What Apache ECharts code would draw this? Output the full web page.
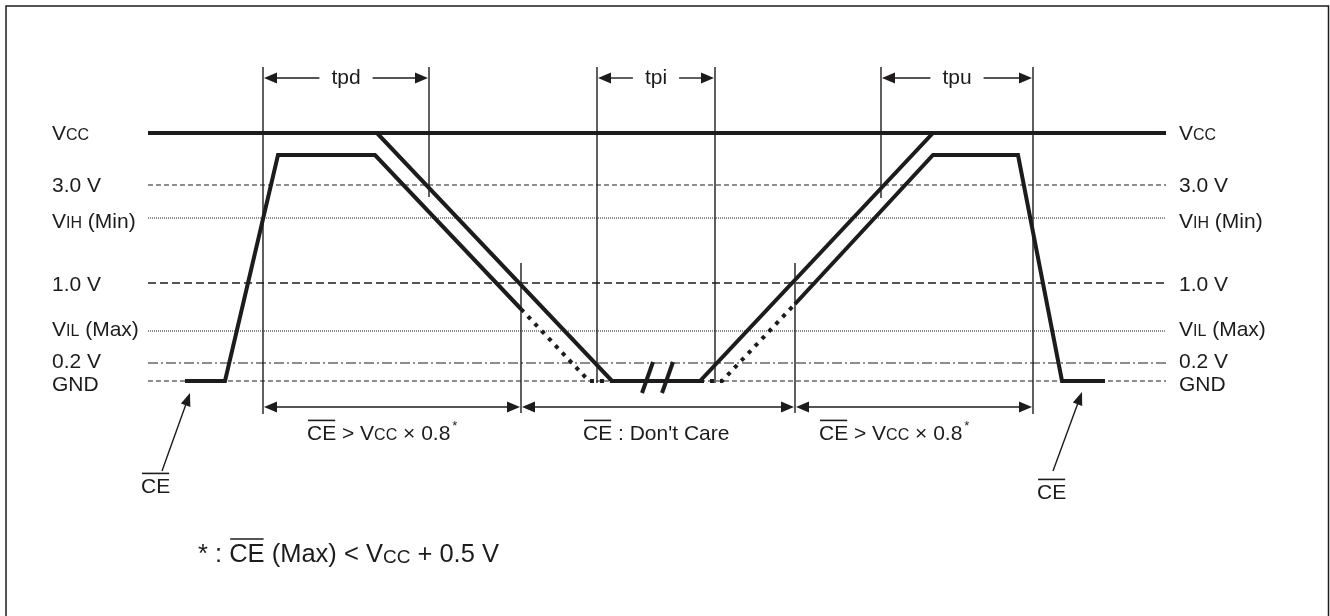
<!DOCTYPE html>
<html><head><meta charset="utf-8">
<script src="https://cdn.jsdelivr.net/npm/echarts@6/dist/echarts.min.js"></script>
<style>html,body{margin:0;padding:0;background:#fff}#c{width:1330px;height:616px}</style>
</head><body><div id="c"></div>
<script>
// ---------- DATA (diagram units: time on x, level on y; GND = 0) ----------
const levelNames  = ['V{CC}', '3.0 V', 'V{IH} (Min)', '1.0 V', 'V{IL} (Max)', '0.2 V', 'GND'];
const levelValues = [248, 196, 163, 98, 50, 18, 0];
const levelSpan   = [148, 1166];               // time span of the reference levels

const vccTime  = [148, 377, 612, 700, 933, 1166];
const vccLevel = [248, 248, 0, 0, 248, 248];

const ceFallTime  = [185, 225, 278, 375, 521];
const ceFallLevel = [0, 0, 226, 226, 72];
const ceFallDotTime  = [521, 589, 612];
const ceFallDotLevel = [72, 0, 0];
const ceRiseDotTime  = [700, 722, 795];
const ceRiseDotLevel = [0, 0, 77];
const ceRiseTime  = [795, 933, 1018, 1062, 1105];
const ceRiseLevel = [77, 226, 226, 0, 0];

const markerTime   = [263, 429, 597, 715, 881, 1033, 521, 795];
const markerTop    = [314, 314, 314, 314, 314, 314, 118, 118];
const markerBottom = [-33, 184, -2, -2, 183, -33, -32, -32];

const topDimNames = ['tpd', 'tpi', 'tpu'];
const topDimFrom  = [263, 597, 881];
const topDimTo    = [429, 715, 1033];
const topDimLevel = 303;

const botDimNames = ['[CE] > V{CC} × 0.8^*', '[CE] : Don\'t Care', '[CE] > V{CC} × 0.8^*'];
const botDimFrom  = [263, 521, 795];
const botDimTo    = [521, 795, 1033];
const botDimLevel = -26;

const breakFrom = [[642, -12], [662, -12]];
const breakTo   = [[653, 19], [673, 19]];

const ceNoteText = ['[CE]', '[CE]'];
const ceNoteTail = [[162, -90], [1053, -90]];
const ceNoteTip  = [[190, -12], [1082, -11]];

const footnote = '* : [CE] (Max) < V{CC} + 0.5 V';

// ---------- STYLE / LAYOUT ----------
const INK = '#1e1b1c';
const FONT = '"Liberation Sans", Arial, Helvetica, sans-serif';
const levelDash  = ['solid', [5, 3], [1, 1], [8, 4], [1, 1], [10, 3, 2, 3], [5, 3]];
const levelWidth = [4, 1.1, 1, 1.3, 1, 1.1, 1.1];
const levelNudge = [1, 1, 4, 2, -1.5, -1, 3.5];
const labelLeftX = 52, labelRightX = 1179;
const botLabelX = [307, 583, 819], botLabelBase = -60;
const ceNoteX = [141, 1037], ceNoteBase = [-113, -119];
const footX = 198, footBase = -183, footSize = 25.5;

const mctx = document.createElement('canvas').getContext('2d');
function tw(t, size) { mctx.font = size + 'px ' + FONT; return mctx.measureText(t).width; }
function parseSpec(spec) {
  const out = []; const re = /\[([^\]]+)\]|\{([^}]+)\}|\^(\S+)|([^\[\{\^]+)/g; let m;
  while ((m = re.exec(spec))) {
    if (m[1] != null) out.push({ t: m[1], k: 'over' });
    else if (m[2] != null) out.push({ t: m[2], k: 'small' });
    else if (m[3] != null) out.push({ t: m[3], k: 'sup' });
    else out.push({ t: m[4], k: 'n' });
  }
  return out;
}
function richText(spec, x, baseY, size, align) {
  const segs = parseSpec(spec);
  let W = 0;
  segs.forEach(s => {
    s.size = s.k === 'small' ? Math.round(size * 0.76) : s.k === 'sup' ? Math.round(size * 0.6) : size;
    s.w = tw(s.t, s.size); W += s.w + (s.k === 'sup' ? 2 : 0);
  });
  let cx = align === 'center' ? x - W / 2 : x;
  const els = [];
  segs.forEach(s => {
    if (s.k === 'sup') cx += 2;
    const base = s.k === 'sup' ? baseY - size * 0.5 : baseY;
    els.push({ type: 'text', x: cx, y: base - 0.3465 * s.size, z2: 10,
      style: { text: s.t, font: s.size + 'px ' + FONT, fill: INK, align: 'left', verticalAlign: 'middle', textAlign: 'left', textVerticalAlign: 'middle' } });
    if (s.k === 'over') {
      const oy = baseY - 0.98 * size;
      els.push({ type: 'line', shape: { x1: cx + 1, y1: oy, x2: cx + s.w - 1, y2: oy }, style: { stroke: INK, lineWidth: 1.6 } });
    }
    cx += s.w;
  });
  return { els, W };
}
function tri(tip, dx, dy, L, H) {
  const bx = tip[0] - dx * L, by = tip[1] - dy * L;
  return [[tip[0], tip[1]], [bx - dy * H, by + dx * H], [bx + dy * H, by - dx * H]];
}
const zip = (a, b) => a.map((v, i) => [v, b[i]]);

// ---------- SERIES ----------
const series = [];
levelValues.forEach((v, i) => {
  series.push({ type: 'line', silent: true, symbol: 'none', z: i === 0 ? 5 : 1,
    data: [[levelSpan[0], v], [levelSpan[1], v]],
    lineStyle: { color: INK, width: levelWidth[i], type: levelDash[i], cap: 'butt' } });
});
series.push({ type: 'custom', coordinateSystem: 'cartesian2d', silent: true, z: 2,
  data: markerTime.map((t, i) => [t, markerTop[i], markerBottom[i]]),
  renderItem(p, api) {
    const a = api.coord([api.value(0), api.value(1)]), b = api.coord([api.value(0), api.value(2)]);
    return { type: 'line', shape: { x1: a[0], y1: a[1], x2: b[0], y2: b[1] }, style: { stroke: INK, lineWidth: 1.4 } };
  } });
const thick = { color: INK, width: 4, join: 'miter', cap: 'butt' };
const dotted = Object.assign({}, thick, { type: [4, 6] });
series.push({ type: 'line', silent: true, symbol: 'none', z: 5, data: zip(vccTime, vccLevel), lineStyle: thick });
series.push({ type: 'line', silent: true, symbol: 'none', z: 5, data: zip(ceFallTime, ceFallLevel), lineStyle: thick });
series.push({ type: 'line', silent: true, symbol: 'none', z: 5, data: zip(ceRiseTime, ceRiseLevel), lineStyle: thick });
series.push({ type: 'line', silent: true, symbol: 'none', z: 5, data: zip(ceFallDotTime, ceFallDotLevel), lineStyle: dotted });
series.push({ type: 'line', silent: true, symbol: 'none', z: 5, data: zip(ceRiseDotTime, ceRiseDotLevel), lineStyle: dotted });
series.push({ type: 'custom', coordinateSystem: 'cartesian2d', silent: true, z: 6,
  data: breakFrom.map((f, i) => [f[0], f[1], breakTo[i][0], breakTo[i][1]]),
  renderItem(p, api) {
    const a = api.coord([api.value(0), api.value(1)]), b = api.coord([api.value(2), api.value(3)]);
    return { type: 'line', shape: { x1: a[0], y1: a[1], x2: b[0], y2: b[1] }, style: { stroke: INK, lineWidth: 4 } };
  } });
const dimNames = topDimNames.concat(botDimNames.map(() => ''));
const dimData = topDimFrom.map((f, i) => [f, topDimTo[i], topDimLevel])
  .concat(botDimFrom.map((f, i) => [f, botDimTo[i], botDimLevel]));
series.push({ type: 'custom', coordinateSystem: 'cartesian2d', silent: true, z: 7, data: dimData,
  renderItem(p, api) {
    const i = p.dataIndex;
    const a = api.coord([api.value(0), api.value(2)]), b = api.coord([api.value(1), api.value(2)]);
    const y = a[1], L = 13, H = 5.5, ax = a[0] + 1, bx = b[0] - 1;
    const ch = [
      { type: 'polygon', shape: { points: tri([ax, y], -1, 0, L, H) }, style: { fill: INK } },
      { type: 'polygon', shape: { points: tri([bx, y], 1, 0, L, H) }, style: { fill: INK } }
    ];
    const ls = { stroke: INK, lineWidth: 1.4 };
    if (dimNames[i]) {
      const mid = (a[0] + b[0]) / 2;
      const r = richText(dimNames[i], mid, y + 7.5, 21, 'center');
      const g = r.W / 2 + 12;
      ch.push({ type: 'line', shape: { x1: ax + L - 1, y1: y, x2: mid - g, y2: y }, style: ls });
      ch.push({ type: 'line', shape: { x1: mid + g, y1: y, x2: bx - L + 1, y2: y }, style: ls });
      ch.push(...r.els);
    } else {
      ch.push({ type: 'line', shape: { x1: ax + L - 1, y1: y, x2: bx - L + 1, y2: y }, style: ls });
    }
    return { type: 'group', children: ch };
  } });
series.push({ type: 'custom', coordinateSystem: 'cartesian2d', silent: true, z: 7,
  data: ceNoteTail.map((t, i) => [t[0], t[1], ceNoteTip[i][0], ceNoteTip[i][1]]),
  renderItem(p, api) {
    const a = api.coord([api.value(0), api.value(1)]), b = api.coord([api.value(2), api.value(3)]);
    const dx = b[0] - a[0], dy = b[1] - a[1], len = Math.hypot(dx, dy), ux = dx / len, uy = dy / len;
    const L = 13, H = 5;
    return { type: 'group', children: [
      { type: 'line', shape: { x1: a[0], y1: a[1], x2: b[0] - ux * (L - 1), y2: b[1] - uy * (L - 1) }, style: { stroke: INK, lineWidth: 1.4 } },
      { type: 'polygon', shape: { points: tri(b, ux, uy, L, H) }, style: { fill: INK } }
    ] };
  } });
const textSpec = [], textPos = [], textSize = [];
levelNames.forEach((n, i) => {
  const v = levelValues[i] - 7.5 - levelNudge[i];
  textSpec.push(n); textPos.push([labelLeftX, v]); textSize.push(21);
  textSpec.push(n); textPos.push([labelRightX, v]); textSize.push(21);
});
botDimNames.forEach((n, i) => { textSpec.push(n); textPos.push([botLabelX[i], botLabelBase]); textSize.push(21); });
ceNoteText.forEach((n, i) => { textSpec.push(n); textPos.push([ceNoteX[i], ceNoteBase[i]]); textSize.push(21); });
textSpec.push(footnote); textPos.push([footX, footBase]); textSize.push(footSize);
series.push({ type: 'custom', coordinateSystem: 'cartesian2d', silent: true, z: 8, data: textPos,
  renderItem(p, api) {
    const i = p.dataIndex;
    const a = api.coord([api.value(0), api.value(1)]);
    return { type: 'group', children: richText(textSpec[i], a[0], a[1], textSize[i], 'left').els };
  } });

const chart = echarts.init(document.getElementById('c'));
chart.setOption({
  animation: false,
  backgroundColor: '#fff',
  grid: { left: 0, right: 0, top: 0, bottom: 0 },
  xAxis: { type: 'value', min: 0, max: 1330, show: false },
  yAxis: { type: 'value', min: -235, max: 381, show: false },
  graphic: [{ type: 'rect', silent: true, shape: { x: 6, y: 6, width: 1322.5, height: 700 },
    style: { fill: 'none', stroke: INK, lineWidth: 1.5 } }],
  series
});
</script></body></html>
